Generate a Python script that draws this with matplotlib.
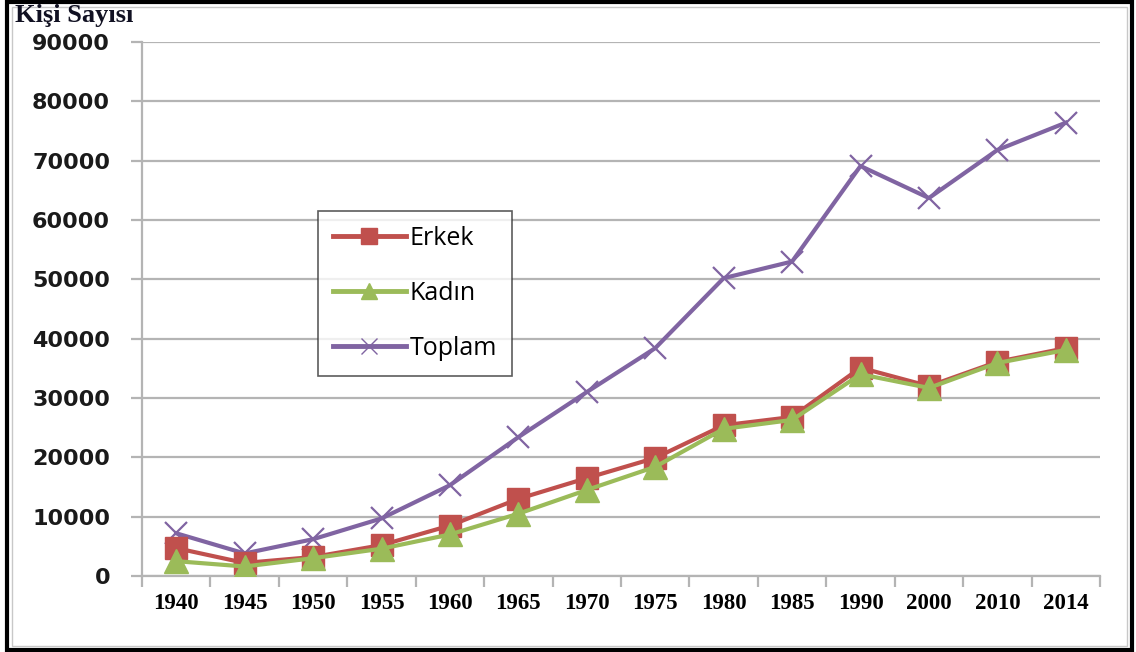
import matplotlib
matplotlib.use("Agg")
import matplotlib.pyplot as plt
from matplotlib.patches import Rectangle
from matplotlib.lines import Line2D
import numpy as np

years = ["1940", "1945", "1950", "1955", "1960", "1965", "1970", "1975",
         "1980", "1985", "1990", "2000", "2010", "2014"]
erkek = [4700, 2200, 3200, 5200, 8500, 13000, 16500, 19900,
         25400, 26800, 35100, 32000, 36100, 38400]
kadin = [2500, 1600, 3000, 4600, 7000, 10500, 14500, 18400,
         24800, 26300, 34000, 31700, 35900, 38100]
toplam = [7200, 3800, 6200, 9700, 15300, 23400, 31000, 38400,
          50200, 53000, 69100, 63700, 71800, 76400]
yticks = [0, 10000, 20000, 30000, 40000, 50000, 60000, 70000, 80000, 90000]

W, H = 1136, 652
fig = plt.figure(figsize=(W / 100, H / 100), dpi=100)
ax = fig.add_axes([142 / W, 1 - 576 / H, (1100 - 142) / W, (576 - 42) / H])

x = np.arange(len(years))
ax.plot(x, toplam, color="#8064A2", lw=3, marker="x", ms=16, mew=1.6,
        label="Toplam", zorder=3)
ax.plot(x, erkek, color="#C0504D", lw=3, marker="s", ms=16,
        label="Erkek", zorder=4)
ax.plot(x, kadin, color="#9BBB59", lw=3, marker="^", ms=17,
        label="Kadın", zorder=5)

ax.set_xlim(-0.5, len(years) - 0.5)
ax.set_ylim(0, 90000)
ax.set_yticks(yticks)
ax.set_yticklabels([str(v) for v in yticks], fontsize=16, fontweight="bold",
                   family="DejaVu Sans", color="#1a1a1a")
ax.yaxis.grid(True, color="#b4b4b4", lw=1.6)
ax.set_axisbelow(True)
ax.tick_params(axis="y", length=8, color="#b4b4b4", width=1.6, pad=15)

ax.set_xticks(x)
ax.set_xticklabels(years, fontsize=16.5, fontweight="bold",
                   family="Liberation Serif")
ax.set_xticks(np.arange(-0.5, len(years)), minor=True)
ax.tick_params(axis="x", which="major", length=0, pad=12)
ax.tick_params(axis="x", which="minor", length=8, color="#b4b4b4", width=1.6)

for s in ["top", "right"]:
    ax.spines[s].set_visible(False)
for s in ["left", "bottom"]:
    ax.spines[s].set_color("#b4b4b4")
    ax.spines[s].set_linewidth(1.6)

leg_handles = [
    Line2D([], [], color="#C0504D", lw=3.5, marker="s", ms=12),
    Line2D([], [], color="#9BBB59", lw=3.5, marker="^", ms=12),
    Line2D([], [], color="#8064A2", lw=3.5, marker="x", ms=12, mew=1),
]
leg = fig.legend(leg_handles, ["Erkek", "Kadın", "Toplam"],
                 loc="upper left", bbox_to_anchor=(318 / W, 1 - 211 / H),
                 borderaxespad=0, frameon=True, fancybox=False,
                 prop={"family": "Open Sans", "size": 18},
                 labelspacing=1.2, handlelength=2.9, handletextpad=0.15,
                 borderpad=0.6)
leg.get_frame().set_edgecolor("#333333")
leg.get_frame().set_linewidth(1.2)

fig.text(15 / W, 1 - 4 / H, "Kişi Sayısı", ha="left", va="top",
         fontsize=19, fontweight="bold", family="Liberation Serif",
         color="#111122")

# outer frame
fig.add_artist(Rectangle((7 / W, 2 / H), (1132 - 7) / W, (650 - 2) / H,
                         transform=fig.transFigure, fill=False,
                         edgecolor="black", lw=3))
fig.add_artist(Rectangle((12 / W, 6 / H), (1127 - 12) / W, (645 - 6) / H,
                         transform=fig.transFigure, fill=False,
                         edgecolor="#c8c8c8", lw=1))

fig.savefig("out.png", dpi=100)
